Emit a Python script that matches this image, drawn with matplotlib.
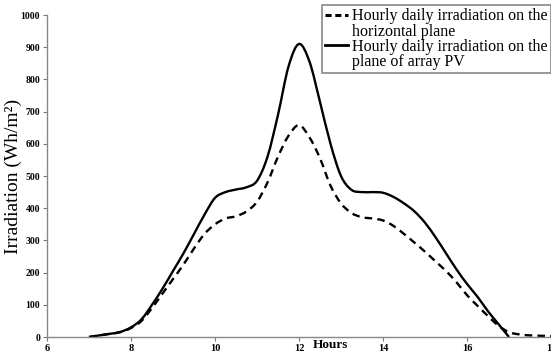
import matplotlib
matplotlib.use("Agg")
import matplotlib.pyplot as plt
from matplotlib.lines import Line2D
from matplotlib.path import Path
from matplotlib.patches import PathPatch

hours_pv = [7.0, 7.25, 7.5, 7.75, 8.0, 8.25, 8.5, 8.75, 9.0, 9.25, 9.5, 9.75,
            10.0, 10.25, 10.5, 10.75, 11.0, 11.25, 11.5, 11.75, 12.0, 12.25,
            12.5, 12.75, 13.0, 13.25, 13.5, 13.75, 14.0, 14.25, 14.5, 14.75,
            15.0, 15.25, 15.5, 15.75, 16.0, 16.25, 16.5, 16.75, 17.0]
irr_pv = [0, 5, 10, 16, 30, 55, 100, 150, 205, 260, 320, 380,
          432, 450, 458, 465, 485, 560, 690, 840, 910, 855,
          730, 600, 500, 457, 450, 450, 448, 435, 415, 390,
          355, 310, 260, 210, 165, 125, 80, 40, 0]

hours_h = [7.0, 7.5, 7.75, 8.0, 8.25, 8.5, 8.75, 9.0, 9.25, 9.5, 9.75,
           10.0, 10.25, 10.5, 10.75, 11.0, 11.25, 11.5, 11.75, 12.0, 12.25,
           12.5, 12.75, 13.0, 13.25, 13.5, 13.75, 14.0, 14.25, 14.5, 14.75,
           15.0, 15.25, 15.5, 15.75, 16.0, 16.25, 16.5, 16.75, 17.0, 17.25,
           17.5, 18.0]
irr_h = [0, 10, 15, 28, 50, 90, 135, 180, 225, 275, 320,
         350, 368, 375, 390, 420, 480, 560, 625, 658, 620,
         555, 470, 415, 385, 372, 368, 362, 345, 320, 293,
         265, 235, 205, 170, 130, 97, 65, 35, 15, 8,
         5, 3]

xticks = [6, 8, 10, 12, 14, 16, 18]
yticks = [0, 100, 200, 300, 400, 500, 600, 700, 800, 900, 1000]

plt.rcParams['font.family'] = ['Liberation Serif', 'DejaVu Serif']


def smooth_path(xs, ys):
    """Catmull-Rom style smoothed path (like spreadsheet 'smoothed line')."""
    n = len(xs)
    verts = [(xs[0], ys[0])]
    codes = [Path.MOVETO]
    for i in range(n - 1):
        x0, y0 = (xs[i - 1], ys[i - 1]) if i > 0 else (xs[i], ys[i])
        x1, y1 = xs[i], ys[i]
        x2, y2 = xs[i + 1], ys[i + 1]
        x3, y3 = (xs[i + 2], ys[i + 2]) if i + 2 < n else (x2, y2)
        c1 = (x1 + (x2 - x0) / 6.0, y1 + (y2 - y0) / 6.0)
        c2 = (x2 - (x3 - x1) / 6.0, y2 - (y3 - y1) / 6.0)
        verts += [c1, c2, (x2, y2)]
        codes += [Path.CURVE4] * 3
    return Path(verts, codes)


fig = plt.figure(figsize=(5.51, 3.53), dpi=100)
ax = fig.add_axes([0.0853, 0.0453, 0.9147, 0.9122])

ax.add_patch(PathPatch(smooth_path(hours_h, irr_h), fill=False, edgecolor='black',
                       lw=1.7, linestyle=(0, (3.2, 2.2)), capstyle='butt'))
ax.add_patch(PathPatch(smooth_path(hours_pv, irr_pv), fill=False, edgecolor='black',
                       lw=1.7))

ax.set_xlim(6, 18)
ax.set_ylim(0, 1000)
ax.set_xticks(xticks)
ax.set_yticks(yticks)
ax.set_xticklabels([str(v) for v in xticks], fontsize=7.5, fontweight='bold')
ax.set_yticklabels([str(v) for v in yticks], fontsize=7, fontweight='bold')
ax.tick_params(axis='both', length=3, width=0.8, color='#777777', pad=2)
for s in ['top', 'right']:
    ax.spines[s].set_visible(False)
for s in ['left', 'bottom']:
    ax.spines[s].set_color('#888888')
    ax.spines[s].set_linewidth(1.0)

ax.set_ylabel('Irradiation (Wh/m²)', fontsize=14)
ax.yaxis.set_label_coords(-0.05, 0.5)
fig.text(0.6, 0.005, 'Hours', fontsize=9.5, fontweight='bold', ha='center', va='bottom')

handles = [Line2D([], [], color='black', lw=2.2, linestyle=(0, (2, 1.2))),
           Line2D([], [], color='none'),
           Line2D([], [], color='black', lw=2.0),
           Line2D([], [], color='none')]
labels = ['Hourly daily irradiation on the', 'horizontal plane',
          'Hourly daily irradiation on the', 'plane of array PV']
leg = fig.legend(handles, labels, loc='upper right', bbox_to_anchor=(1.0, 0.985),
                 fontsize=11.5, frameon=True, fancybox=False, framealpha=1,
                 edgecolor='#888888', labelspacing=-0.05, handlelength=1.4,
                 handletextpad=0.3, borderpad=0.2, borderaxespad=0.0)
leg.get_frame().set_linewidth(1.2)

fig.savefig('out.png', dpi=100)
